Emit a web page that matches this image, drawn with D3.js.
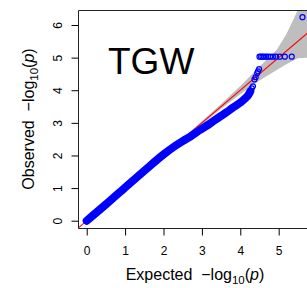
<!DOCTYPE html>
<html><head><meta charset="utf-8">
<script src="https://cdn.jsdelivr.net/npm/d3@7"></script>
<style>
html,body{margin:0;padding:0;background:#fff;}
svg{display:block;font-family:"Liberation Sans",Arial,Helvetica,sans-serif;}
</style></head>
<body>
<svg id="chart" width="307" height="288"></svg>
<script>
// ---- data ----
const title = "TGW";
const xTicks = [0, 1, 2, 3, 4, 5];
const yTicks = [0, 1, 2, 3, 4, 5, 6];
// dense part of the QQ cloud (expected vs observed -log10 p)
const denseExpected = [0, 0.5, 1.0, 1.5, 2.0, 2.3, 2.5, 2.7, 2.95, 3.2, 3.47, 3.65, 3.82, 4.0, 4.1, 4.2, 4.26];
const denseObserved = [0, 0.5, 1.02, 1.53, 2.03, 2.29, 2.44, 2.58, 2.78, 2.97, 3.19, 3.33, 3.48, 3.62, 3.72, 3.84, 3.96];
// sparse tail points
const tailExpected = [4.30, 4.33, 4.37, 4.40, 4.44, 4.46, 4.49,
  4.50, 4.54, 4.58, 4.62, 4.67, 4.72, 4.78, 4.85, 4.93, 5.03, 5.16, 5.34, 5.62];
const tailObserved = [4.06, 4.12, 4.33, 4.40, 4.52, 4.58, 4.65,
  5.03, 5.03, 5.03, 5.03, 5.03, 5.03, 5.03, 5.03, 5.03, 5.03, 5.03, 5.03, 6.24];
// 95% confidence band
const bandExpected = [2.4, 3.0, 3.5, 4.0, 4.5, 4.95, 5.2, 5.5, 5.75];
const bandUpper    = [2.42, 3.05, 3.58, 4.13, 4.72, 5.24, 5.72, 6.46, 7.30];
const bandLower    = [2.38, 2.95, 3.43, 3.88, 4.30, 4.62, 4.80, 4.98, 5.00];
const lineEnds = [-0.3, 7];

// ---- layout ----
const svg = d3.select("#chart");
const L = 78, R = 314, T = 10, B = 228;
const x = d3.scaleLinear().domain([-0.227, 5.92]).range([L, R]);
const y = d3.scaleLinear().domain([-0.224, 6.46]).range([B, T]);

svg.append("clipPath").attr("id", "clip")
  .append("rect").attr("x", L).attr("y", T).attr("width", R - L).attr("height", B - T);
const plot = svg.append("g").attr("clip-path", "url(#clip)");

// band
const bandData = bandExpected.map((e, i) => ({e, u: bandUpper[i], l: bandLower[i]}));
plot.append("path").datum(bandData)
  .attr("d", d3.area().x(d => x(d.e)).y0(d => y(d.l)).y1(d => y(d.u)))
  .attr("fill", "#bebebe").attr("stroke", "none");

// y = x reference line
plot.append("line")
  .attr("x1", x(lineEnds[0])).attr("y1", y(lineEnds[0]))
  .attr("x2", x(lineEnds[1])).attr("y2", y(lineEnds[1]))
  .attr("stroke", "#ff0000").attr("stroke-width", 1.1);

// dense cloud
const denseData = denseExpected.map((e, i) => [e, denseObserved[i]]);
plot.append("path").datum(denseData)
  .attr("d", d3.line().x(d => x(d[0])).y(d => y(d[1])).curve(d3.curveMonotoneX))
  .attr("fill", "none").attr("stroke", "#0000ff").attr("stroke-width", 8)
  .attr("stroke-linecap", "round").attr("stroke-linejoin", "round");

// tail points
plot.selectAll("circle.tail").data(tailExpected.map((e, i) => [e, tailObserved[i]]))
  .enter().append("circle").attr("class", "tail")
  .attr("cx", d => x(d[0])).attr("cy", d => y(d[1])).attr("r", 2.5)
  .attr("fill", "none").attr("stroke", "#0000ff").attr("stroke-width", 1.2);

// box
svg.append("path")
  .attr("d", `M${R + 5},${T + 0.5}H${L + 0.5}V${B + 0.5}H${R + 5}`)
  .attr("fill", "none").attr("stroke", "#222").attr("stroke-width", 1);

// axes
const xAxis = svg.append("g").attr("transform", `translate(0,${B + 0.5})`)
  .call(d3.axisBottom(x).tickValues(xTicks).tickSize(7).tickPadding(11).tickFormat(d3.format("d")));
xAxis.select(".domain").remove();
xAxis.selectAll("text").attr("font-size", 12).attr("fill", "#000")
  .attr("font-family", "Liberation Sans, Arial, sans-serif");
xAxis.selectAll("line").attr("stroke", "#000");

const yAxis = svg.append("g").attr("transform", `translate(${L + 0.5},0)`)
  .call(d3.axisLeft(y).tickValues(yTicks).tickSize(7).tickFormat(d3.format("d")));
yAxis.select(".domain").remove();
yAxis.selectAll("line").attr("stroke", "#000");
yAxis.selectAll("text")
  .attr("font-size", 12).attr("fill", "#000")
  .attr("font-family", "Liberation Sans, Arial, sans-serif")
  .attr("x", null).attr("dy", null)
  .attr("text-anchor", "middle")
  .attr("transform", "translate(-17,0) rotate(-90)");

// title inside plot
svg.append("text").attr("x", 108).attr("y", 73.5)
  .attr("font-size", 37).attr("fill", "#000").text(title);

// axis titles
function label(sel) {
  sel.append("tspan").text("\u2212log");
  sel.append("tspan").attr("font-size", 11.5).attr("dy", 3.5).text("10");
  sel.append("tspan").attr("dy", -3.5).text("(");
  sel.append("tspan").attr("font-style", "italic").text("p");
  sel.append("tspan").text(")");
}
const xl = svg.append("text").attr("x", 195).attr("y", 280)
  .attr("text-anchor", "middle").attr("font-size", 16).attr("fill", "#000")
  .style("white-space", "pre");
xl.append("tspan").text("Expected  ");
label(xl);

const yl = svg.append("text").attr("transform", "translate(34,119) rotate(-90)")
  .attr("text-anchor", "middle").attr("font-size", 16).attr("fill", "#000")
  .style("white-space", "pre");
yl.append("tspan").text("Observed  ");
label(yl);
</script>
</body></html>
